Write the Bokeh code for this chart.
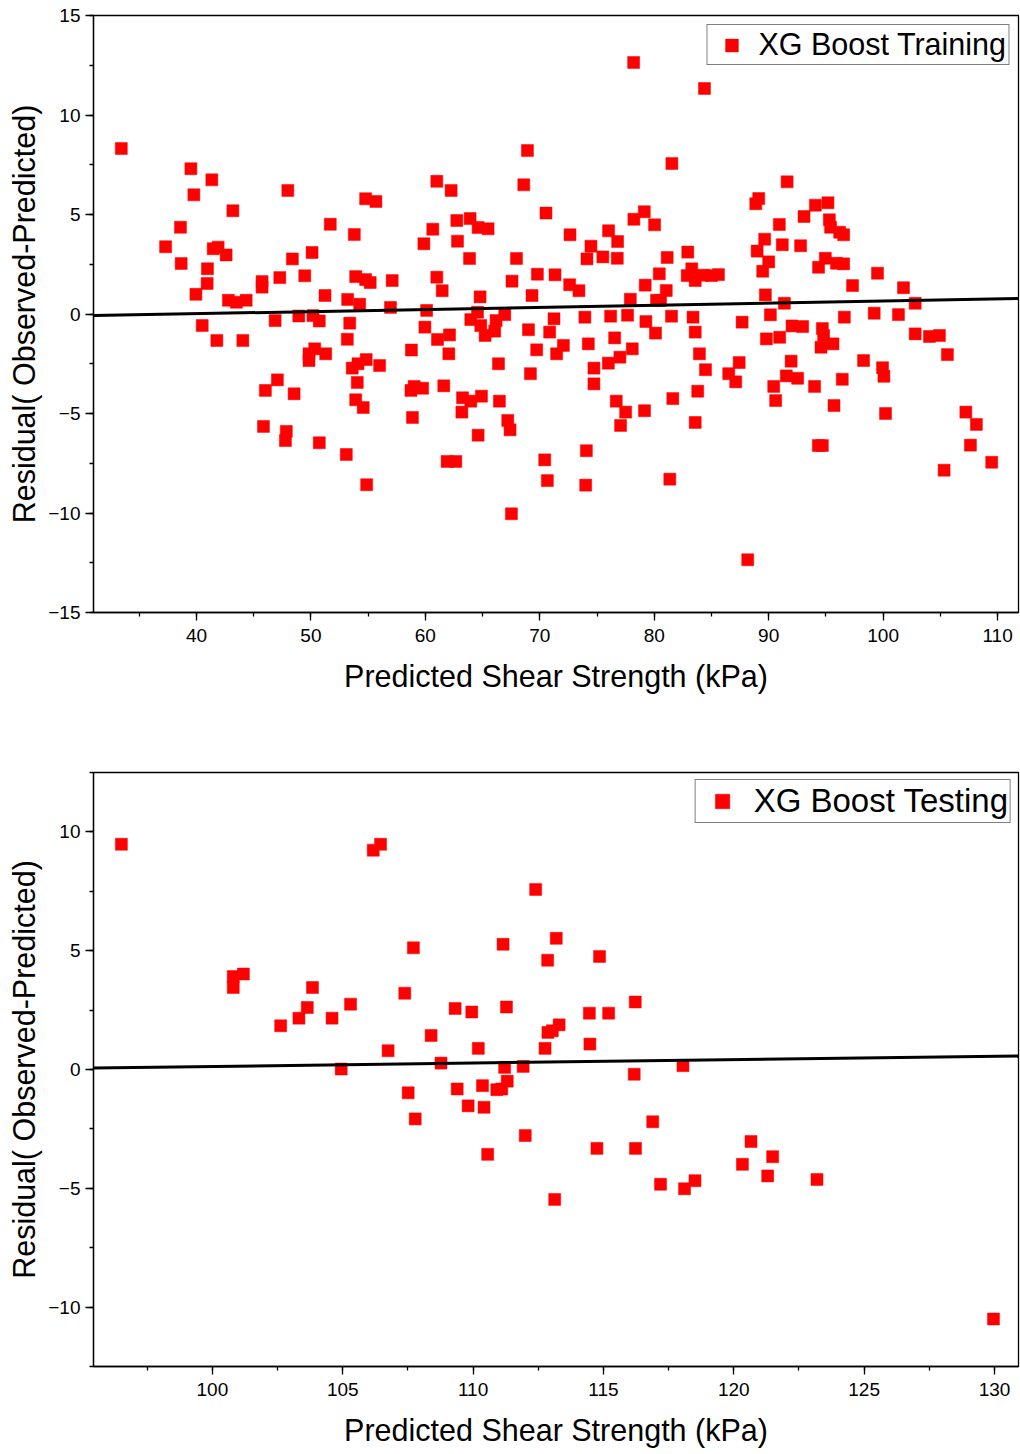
from bokeh.plotting import figure
from bokeh.layouts import column
from bokeh.models import (Legend, LegendItem, SingleIntervalTicker, Range1d,
                          CustomJSTickFormatter, ColumnDataSource)
from bokeh.embed import file_html
from bokeh.resources import INLINE

# ---------------- data: training ----------------
train_pred = [33.43, 37.30, 38.60, 38.66, 39.51, 39.77, 39.95, 40.50, 40.96, 40.93,
              41.34, 41.46, 41.89, 41.78, 42.59, 42.79, 43.18, 43.49, 44.05, 44.34,
              45.73, 45.73, 45.85, 46.02, 46.87, 47.07, 47.28, 47.85, 47.77, 47.98,
              48.38, 48.53, 48.94, 49.46, 49.83, 49.83, 50.10, 50.18, 50.33, 50.73,
              50.73, 51.23, 51.29, 51.69, 53.09, 53.18, 53.21, 53.39, 53.61, 53.79,
              53.91, 53.91, 54.05, 54.11, 54.26, 54.57, 54.78, 54.78, 54.83, 54.87,
              55.18, 55.68, 56.00, 56.95, 57.10, 58.78, 58.74, 58.87, 59.02, 59.76,
              59.87, 59.96, 60.11, 60.65, 61.00, 61.00, 61.06, 61.47, 61.61, 61.90,
              62.05, 62.11, 62.25, 62.66, 62.75, 62.81, 63.19, 63.25, 63.86, 63.91,
              63.97, 63.97, 64.56, 64.61, 64.61, 64.78, 64.84, 64.90, 65.22, 65.48,
              66.06, 66.18, 66.39, 66.47, 66.94, 67.20, 67.40, 67.52, 67.57, 67.96,
              68.60, 68.92, 69.01, 69.18, 69.32, 69.73, 69.79, 70.43, 70.54, 70.66,
              70.86, 71.24, 71.33, 71.47, 72.06, 72.61, 72.64, 73.42, 73.94, 74.01,
              74.07, 74.12, 74.24, 74.47, 74.73, 74.73, 75.51, 75.99, 76.01, 76.19,
              76.54, 76.68, 76.77, 76.80, 77.00, 77.06, 77.50, 77.67, 77.91, 78.08,
              78.22, 78.20, 79.13, 79.15, 79.21, 79.27, 80.03, 80.11, 80.20, 80.44,
              80.55, 81.05, 81.13, 81.36, 81.54, 81.51, 81.62, 82.88, 82.93, 83.28,
              83.39, 83.58, 83.58, 83.58, 83.80, 83.95, 84.28, 84.39, 84.48, 85.00,
              85.61, 86.51, 87.12, 87.42, 87.68, 88.17, 88.87, 88.99, 89.13, 89.48,
              89.65, 89.71, 89.80, 90.00, 90.15, 90.44, 90.61, 90.93, 90.96, 91.19,
              91.37, 91.54, 91.61, 91.96, 92.04, 92.53, 92.79, 92.97, 93.09, 94.01,
              94.08, 94.36, 94.34, 94.69, 94.57, 94.69, 94.80, 94.95, 95.18, 95.30,
              95.41, 95.62, 95.71, 95.93, 96.20, 96.43, 96.55, 96.55, 96.61, 97.33,
              98.29, 99.22, 99.51, 99.95, 100.07, 100.21, 101.34, 101.78, 102.80, 102.80,
              104.05, 104.92, 105.33, 105.62, 107.23, 107.63, 108.15, 109.49]
train_resid = [8.32, 3.38, 4.36, 2.54, 7.30, 5.99, 0.99, -0.58, 2.27, 1.53,
               6.74, 3.28, 3.36, -1.33, 2.97, 0.69, 5.19, 0.59, -1.33, 0.69,
               1.63, 1.35, -5.65, -3.84, -0.33, -3.31, 1.83, -5.90, -6.36, 6.21,
               2.77, -4.01, -0.10, 1.92, -2.00, -2.34, 3.09, -0.08, -1.75, -0.35,
               -6.47, 0.93, -2.00, 4.51, -7.06, -1.27, 0.73, -0.46, -2.72, 3.99,
               1.88, -4.31, -3.44, -2.50, 0.49, -4.70, 5.79, 1.73, -2.29, -8.58,
               1.58, 5.65, -2.59, 0.33, 1.68, -1.81, -3.84, -5.20, -3.64, -3.73,
               3.53, -0.66, 0.18, 4.26, 6.67, 1.85, -1.28, 1.17, -3.61, -7.41,
               -2.00, -1.05, 6.21, -7.41, 4.70, 3.66, -4.93, -4.21, 2.79, 4.80,
               -0.28, -4.38, 0.09, 4.35, -6.09, 0.86, -0.58, -4.13, -1.08, 4.28,
               -0.86, -0.33, -2.50, -4.38, -0.03, -5.35, -5.82, -10.04, 1.65, 2.79,
               6.49, 8.22, -0.79, -3.00, 0.93, -1.80, 2.00, -7.33, 5.07, -8.37,
               -0.91, -0.24, 1.97, -2.00, -1.58, 1.47, 3.98, 1.17, -0.16, -8.60,
               -6.87, 2.77, -1.50, 3.41, -2.72, -3.51, 2.87, -2.47, 4.18, -0.11,
               -1.20, -4.38, 2.80, 3.64, -2.17, -5.60, -4.93, -0.06, 0.74, -1.75,
               4.76, 12.64, 5.14, -4.86, 1.45, -0.38, 4.48, -0.96, 0.69, 2.02,
               0.68, 1.18, 2.84, -8.30, 7.56, -0.11, -4.25, 1.93, 3.11, 2.27,
               -0.16, 1.68, -0.91, -5.45, -3.88, -2.00, 1.95, 11.33, -2.80, 1.93,
               1.98, -3.00, -3.41, -2.44, -0.41, -12.35, 5.54, 3.16, 5.80, 2.15,
               3.76, 0.96, -1.25, 2.62, -0.04, -3.64, -4.35, 4.50, -1.17, 3.48,
               0.54, -3.11, 6.64, -2.37, -0.60, -3.23, 3.43, -0.63, 4.90, -3.64,
               5.47, 2.35, -6.61, -6.61, -1.67, -0.73, -1.08, 2.80, 5.59, 4.73,
               4.36, -1.50, -4.60, 2.55, 4.11, -3.28, 3.98, 2.52, -0.16, 1.43,
               -2.34, 0.04, 2.05, -2.70, -3.13, -5.00, -0.03, 1.32, 0.54, -1.00,
               -1.13, -1.08, -7.85, -2.04, -4.93, -6.59, -5.55, -7.45]

# ---------------- data: testing ----------------
test_pred = [96.51, 106.17, 106.45, 112.40, 107.71, 111.15, 113.19, 112.86, 114.85,
             100.80, 101.19, 100.80, 103.84, 107.38, 105.30, 103.64, 103.32, 104.59,
             102.62, 109.31, 109.95, 111.28, 114.46, 115.20, 116.22, 108.39, 112.87,
             113.04, 113.30, 110.20, 112.76, 114.48, 106.74, 104.94, 108.77, 111.21,
             111.92, 118.05, 116.18, 107.51, 109.39, 110.36, 110.91, 111.10, 111.31,
             107.78, 109.81, 110.42, 112.00, 110.56, 114.75, 116.23, 116.89, 120.66,
             120.33, 121.49, 121.30, 123.19, 117.19, 118.51, 118.11, 113.13, 129.96]
test_resid = [9.48, 9.23, 9.48, 7.58, 5.12, 5.27, 5.52, 4.60, 4.76,
              3.91, 4.02, 3.45, 3.45, 3.21, 2.75, 2.61, 2.16, 2.16,
              1.84, 2.57, 2.42, 2.63, 2.37, 2.37, 2.84, 1.43, 1.56,
              1.63, 1.88, 0.89, 0.89, 1.07, 0.79, 0.02, 0.27, 0.09,
              0.13, 0.16, -0.20, -0.98, -0.82, -0.68, -0.85, -0.82, -0.49,
              -2.08, -1.53, -1.59, -2.78, -3.57, -3.32, -3.32, -2.20, -3.03,
              -3.99, -3.67, -4.48, -4.63, -4.83, -4.68, -5.02, -5.47, -10.50]

# linear trend of residuals (intercept, slope)
train_fit = [-0.41, 0.0106]
test_fit = [-1.31, 0.01437]

train_xlim = [31.0, 111.83]
train_ylim = [-15, 15]
test_xlim = [95.44, 130.92]
test_ylim = [-12.5, 12.5]

x_title = "Predicted Shear Strength (kPa)"
y_title = "Residual( Observed-Predicted)"
train_label = "XG Boost Training"
test_label = "XG Boost Testing"

FONT = "Liberation Sans"
minus_fmt = "return tick.toString().replace('-', '\u2212');"


def make_plot(xs, ys, fit, xlim, ylim, xint, yint, label, height, top, bottom,
              leg_font, leg_gw, leg_gh, leg_standoff, leg_margin, leg_pad):
    p = figure(width=1020, height=height, output_backend="svg", toolbar_location=None,
               x_range=Range1d(*xlim), y_range=Range1d(*ylim),
               min_border_left=93, min_border_right=2,
               min_border_top=top, min_border_bottom=bottom)
    p.grid.visible = False
    p.outline_line_color = "black"
    p.outline_line_width = 1.3
    p.background_fill_color = "white"
    p.border_fill_color = "white"

    src = ColumnDataSource(dict(x=xs, y=ys))
    r = p.scatter("x", "y", source=src, marker="square", size=12,
                  fill_color="#ff0000", line_color="#ff0000", line_width=0.5)

    fx = [xlim[0], xlim[1]]
    fy = [fit[0] + fit[1] * v for v in fx]
    p.line(fx, fy, line_color="black", line_width=3)

    p.xaxis.ticker = SingleIntervalTicker(interval=xint, num_minor_ticks=2)
    p.yaxis.ticker = SingleIntervalTicker(interval=yint, num_minor_ticks=2)
    for ax in (p.xaxis[0], p.yaxis[0]):
        ax.formatter = CustomJSTickFormatter(code=minus_fmt)
        ax.axis_line_color = "black"
        ax.axis_line_width = 1.3
        ax.major_tick_line_color = "black"
        ax.minor_tick_line_color = "black"
        ax.major_tick_line_width = 1.3
        ax.minor_tick_line_width = 1.3
        ax.major_tick_out = 8
        ax.major_tick_in = 0
        ax.minor_tick_out = 4
        ax.minor_tick_in = 0
        ax.major_label_text_font = FONT
        ax.major_label_text_font_size = "19px"
        ax.major_label_text_color = "black"
        ax.axis_label_text_font = FONT
        ax.axis_label_text_font_size = "30.5px"
        ax.axis_label_text_font_style = "normal"
        ax.axis_label_text_color = "black"
    p.xaxis.axis_label = x_title
    p.yaxis.axis_label = y_title
    p.xaxis.major_label_standoff = 8
    p.yaxis.major_label_standoff = 5
    p.xaxis.axis_label_standoff = 14
    p.yaxis.axis_label_standoff = 4

    leg = Legend(items=[LegendItem(label=label, renderers=[r])],
                 location="top_right")
    leg.label_text_font = FONT
    leg.label_text_font_size = leg_font
    leg.label_text_color = "black"
    leg.border_line_color = "black"
    leg.border_line_width = 1.3
    leg.background_fill_alpha = 1
    leg.margin = leg_margin
    leg.padding = leg_pad
    leg.glyph_width = leg_gw
    leg.glyph_height = leg_gh
    leg.label_standoff = leg_standoff
    leg.label_height = leg_gh
    p.add_layout(leg)
    return p


p1 = make_plot(train_pred, train_resid, train_fit, train_xlim, train_ylim,
               10, 5, train_label, height=700, top=15, bottom=88,
               leg_font="30.5px", leg_gw=44, leg_gh=32, leg_standoff=5,
               leg_margin=9, leg_pad=2)
p2 = make_plot(test_pred, test_resid, test_fit, test_xlim, test_ylim,
               5, 5, test_label, height=749, top=72, bottom=80,
               leg_font="33px", leg_gw=49, leg_gh=36, leg_standoff=7,
               leg_margin=7, leg_pad=2)

layout = column(p1, p2, spacing=0)
open("out.html", "w").write(file_html(layout, INLINE))
